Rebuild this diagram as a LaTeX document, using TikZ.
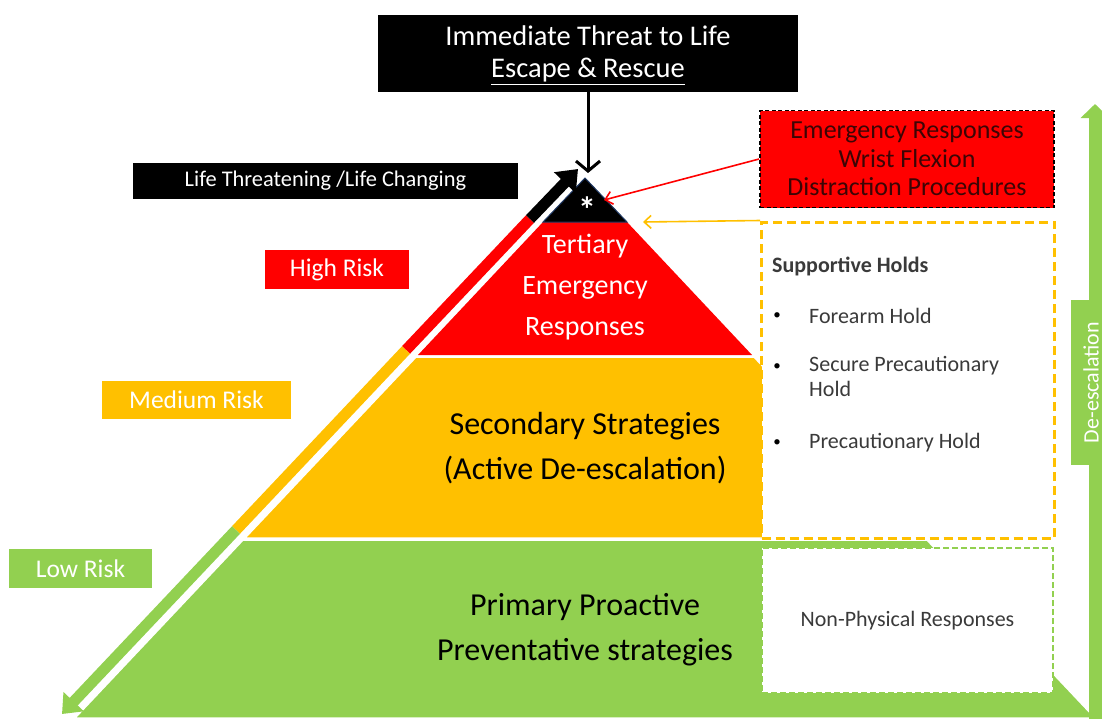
\documentclass[tikz,border=0pt]{standalone}
\usepackage{fontspec}
\setmainfont{Carlito}
\usetikzlibrary{arrows.meta,positioning,calc}
\definecolor{riskred}{HTML}{FF0000}
\definecolor{riskamber}{HTML}{FFC000}
\definecolor{riskgreen}{HTML}{92D050}
\definecolor{apexblue}{HTML}{1F3864}
\definecolor{darktext}{HTML}{3A3A3A}
\definecolor{maroontext}{HTML}{3C0505}

\begin{document}
\begin{tikzpicture}[x=1pt,y=-1pt,
  every node/.style={inner sep=0pt},
  blackbox/.style={fill=black,text=white,align=center},
  risk/.style={text=white,font=\fontsize{25.5}{28}\selectfont},
  tier/.style={align=center,font=\fontsize{32}{45}\selectfont},
  holds/.style={text=darktext,font=\fontsize{22}{25}\selectfont,align=left,anchor=west},
  dot/.style={text=black,font=\fontsize{15}{15}\selectfont},
  band/.style={line width=11pt},
  thinarr/.style={line width=1.6pt,-{Straight Barb[length=7pt,width=13pt]}}
]
\useasboundingbox (0,0) rectangle (1102,718);

% pyramid tiers
\fill[riskgreen,draw=white,line width=1.5pt] (243,540) -- (927,540) -- (1095,718) -- (75,718) -- cycle;
\fill[riskamber,draw=white,line width=1.5pt] (416,357) -- (754,357) -- (925,538) -- (245,538) -- cycle;
\fill[riskred] (543,222) -- (627,222) -- (752,355) -- (418,355) -- cycle;
\filldraw[fill=black,draw=apexblue,line width=1pt] (585,178) -- (543,222) -- (627,222) -- cycle;
\coordinate (apextip) at (588,173);
\coordinate (startip) at (604,200);
\coordinate (holdtip) at (643,222);

% risk band along the left side
\coordinate (bandtop) at (578,169);
\coordinate (bandblack) at (530,219);
\coordinate (bandred) at (406,350);
\coordinate (bandamber) at (236,530);
\coordinate (bandlow) at (62,714);
\draw[band,riskred] (bandblack) -- (bandred);
\draw[band,riskamber] (bandred) -- (bandamber);
\draw[band,riskgreen,-{Triangle[length=17pt,width=27pt]}] (bandamber) -- (bandlow);
\draw[band,black,-{Triangle[length=19pt,width=29pt]}] (bandblack) -- (bandtop);

% de-escalation arrow
\coordinate (deesc) at (1095,725);
\coordinate (deesctip) at (1095,104);
\draw[line width=13pt,riskgreen,-{Triangle[length=14pt,width=28pt]}] (deesc) -- (deesctip);
\node[fill=riskgreen,text=white,rotate=90,minimum width=165pt,minimum height=40pt,
  font=\fontsize{22}{22}\selectfont] (deesclabel) at (1091,382.5) {De-escalation};

% labels
\node[blackbox,minimum width=420pt,minimum height=77pt,font=\fontsize{28.5}{32}\selectfont,
  text depth=3pt] (threat) at (588,53.5) {Immediate Threat to Life\\\underline{Escape \& Rescue}};
\node[blackbox,minimum width=385pt,minimum height=36pt,font=\fontsize{22.4}{24}\selectfont]
  (lifebox) at (325.5,181) {Life Threatening /Life Changing};
\node[risk,fill=riskred,minimum width=144pt,minimum height=39pt] (high) at (337,269.5) {High Risk};
\node[risk,fill=riskamber,minimum width=189pt,minimum height=38pt] (medium) at (196.5,399.5) {Medium Risk};
\node[risk,fill=riskgreen,minimum width=143pt,minimum height=39pt] (low) at (80.5,568.5) {Low Risk};

\node[tier,text=white,font=\fontsize{28}{41}\selectfont] (tertiary) at (585,287) {Tertiary\\Emergency\\Responses};
\node[tier] (secondary) at (585,448) {Secondary Strategies\\(Active De-escalation)};
\node[tier] (primary) at (585,630) {Primary Proactive\\Preventative strategies};
\node[text=white,font=\bfseries\fontsize{36}{36}\selectfont] (star) at (587,210) {*};

% side boxes
\node[fill=riskred,draw=black,line width=1.8pt,dash pattern=on 4pt off 2.5pt,
  minimum width=294pt,minimum height=97pt,align=center,text=maroontext,
  font=\fontsize{26}{28.5}\selectfont] (emerg) at (907,159)
  {Emergency Responses\\Wrist Flexion\\Distraction Procedures};
\node[fill=white,draw=riskamber,line width=3pt,dash pattern=on 9pt off 5pt,
  minimum width=293pt,minimum height=316pt] (holdbox) at (908,380) {};
\node[holds,font=\bfseries\fontsize{22}{25}\selectfont] (holdtitle) at (772,266) {Supportive Holds};
\node[dot] (b1) at (777,316) {\textbullet};
\node[dot] (b2) at (777,367) {\textbullet};
\node[dot] (b3) at (777,443) {\textbullet};
\node[holds] (hold1) at (809,316) {Forearm Hold};
\node[holds,anchor=north west] (hold2) at (809,356) {Secure Precautionary\\Hold};
\node[holds] (hold3) at (809,443) {Precautionary Hold};
\node[fill=white,draw=riskgreen,line width=1.5pt,dash pattern=on 6pt off 3pt,
  minimum width=291pt,minimum height=145pt,text=darktext,
  font=\fontsize{22}{25}\selectfont] (nonphys) at (907.5,620.5) {Non-Physical Responses};

% connectors
\draw[line width=3pt,-{Straight Barb[length=10pt,width=24pt]}] (threat.south) -- (apextip);
\draw[thinarr,riskred] (emerg.west) -- (startip);
\draw[thinarr,riskamber] (holdbox.north west) -- (holdtip);
\end{tikzpicture}
\end{document}
